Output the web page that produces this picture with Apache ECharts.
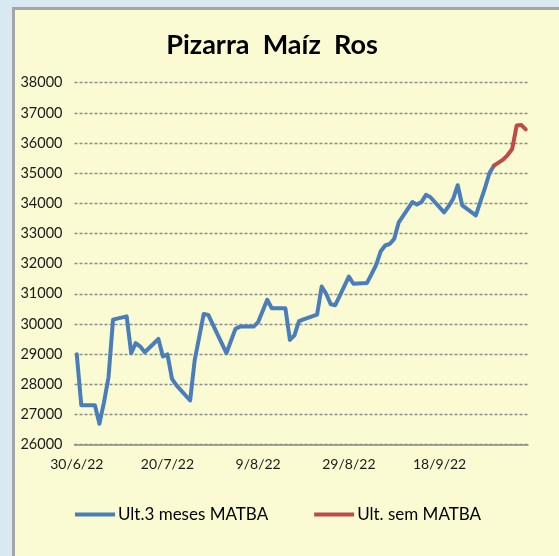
<!DOCTYPE html>
<html>
<head>
<meta charset="utf-8">
<script src="https://cdn.jsdelivr.net/npm/echarts@6/dist/echarts.min.js"></script>
<style>
  html, body { margin: 0; padding: 0; background: #d9e8f1; overflow: hidden; }
  #frame { position: absolute; left: 12px; top: 7px; width: 600px; height: 600px;
           background: #fafbd2; border-left: 3px solid #a3a7aa; border-top: 3px solid #a3a7aa; }
  #chart { position: absolute; left: 0; top: 0; width: 559px; height: 556px; }
</style>
</head>
<body>
<div id="frame"></div>
<div id="chart"></div>
<script>
// days counted from 30/6/22
const blueDays = [0, 1, 4, 5, 6, 7, 8, 11, 12, 13, 14, 15, 18, 19, 20, 21, 22, 25, 26, 28, 29, 33,
  35, 36, 39, 40, 42, 43, 46, 47, 48, 49, 50, 53, 54, 55, 56, 57, 60, 61, 64, 65, 66, 67, 68, 69,
  70, 71, 74, 75, 76, 77, 78, 81, 82, 83, 84, 85, 88, 90, 91, 92];
const blueValues = [28990, 27300, 27300, 26690, 27400, 28230, 30140, 30250, 29030, 29360, 29250, 29060,
  29500, 28920, 28990, 28180, 27960, 27460, 28790, 30330, 30300, 29030,
  29840, 29910, 29910, 30060, 30800, 30520, 30520, 29470, 29620, 30090, 30150, 30310, 31240, 31000,
  30650, 30620, 31570, 31330, 31360, 31650, 31950, 32400, 32600, 32650,
  32820, 33370, 34040, 33960, 34040, 34280, 34200, 33700, 33900, 34150, 34600, 33930, 33600, 34500, 35000, 35250];
const redDays = [92, 94, 95, 96, 97, 98, 99];
const redValues = [35250, 35450, 35600, 35800, 36580, 36600, 36450];

const tickDays = [0, 20, 40, 60, 80];
const tickLabels = ['30/6/22', '20/7/22', '9/8/22', '29/8/22', '18/9/22'];

const blueColor = '#4a7ebb';
const redColor = '#be4b48';
const font = 'Lato, "Liberation Sans", sans-serif';

function pairs(days, values) {
  return days.map((d, i) => [d, values[i]]);
}

const chart = echarts.init(document.getElementById('chart'), null, { renderer: 'canvas' });

const option = {
  animation: false,
  backgroundColor: 'transparent',
  title: {
    text: 'Pizarra  Maíz  Ros',
    left: 267,
    textAlign: 'center',
    top: 27,
    textStyle: { fontFamily: font, fontWeight: 'bold', fontSize: 27, color: '#000' }
  },
  grid: { left: 74.5, right: 31, top: 82.7, bottom: 111.5 },
  legend: {
    top: 501,
    left: 70,
    itemGap: 46,
    itemWidth: 40,
    itemHeight: 4,
    icon: 'rect',
    textStyle: { fontFamily: font, fontSize: 17, color: '#000', padding: [0, 0, 0, -2] },
    data: ['Ult.3 meses MATBA', 'Ult. sem MATBA']
  },
  xAxis: {
    type: 'value',
    min: -0.5,
    max: 99.5,
    axisLine: { show: true, lineStyle: { color: '#8c8c8c', width: 1.5 } },
    axisTick: { show: false },
    splitLine: { show: false },
    axisLabel: {
      customValues: tickDays,
      margin: 13,
      fontFamily: font,
      fontSize: 14,
      color: '#1a1a1a',
      formatter: v => tickLabels[tickDays.indexOf(v)] || ''
    }
  },
  yAxis: {
    type: 'value',
    min: 26000,
    max: 38000,
    interval: 1000,
    axisLine: { show: false },
    axisTick: { show: false },
    axisLabel: { margin: 12, fontFamily: font, fontSize: 14.5, color: '#1a1a1a', formatter: v => String(v) },
    splitLine: { show: true, lineStyle: { color: '#8c8c8c', type: [3, 2], width: 1.3 } }
  },
  series: [
    {
      name: 'Ult.3 meses MATBA',
      type: 'line',
      symbol: 'none',
      itemStyle: { color: blueColor },
      lineStyle: { color: blueColor, width: 4, join: 'round', cap: 'round' },
      data: pairs(blueDays, blueValues)
    },
    {
      name: 'Ult. sem MATBA',
      type: 'line',
      symbol: 'none',
      itemStyle: { color: redColor },
      lineStyle: { color: redColor, width: 4, join: 'round', cap: 'round' },
      data: pairs(redDays, redValues)
    }
  ]
};
chart.setOption(option);
</script>
</body>
</html>
